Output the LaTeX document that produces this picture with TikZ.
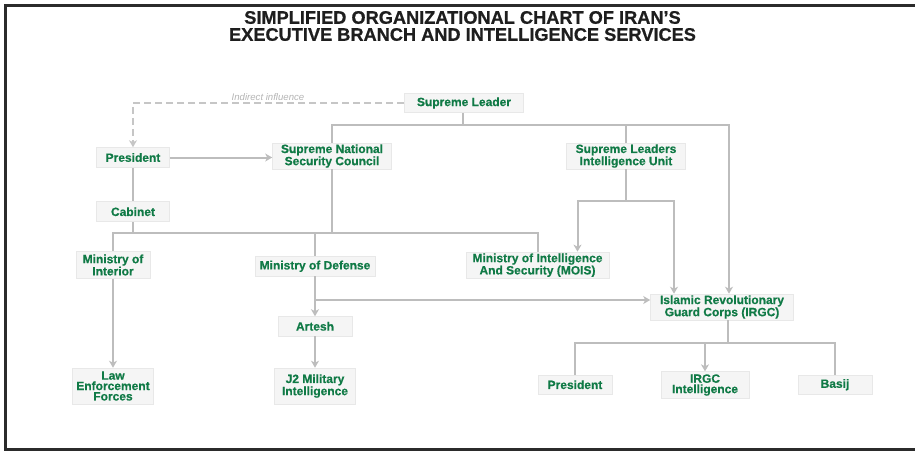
\documentclass[tikz,border=0pt]{standalone}
\usepackage{fontspec}
\setmainfont{Liberation Sans}
\newfontfamily\titlefont[BoldFeatures={FakeBold=0.7}]{Liberation Sans}
\newfontfamily\unitfont[BoldFeatures={FakeBold=0.5}]{Liberation Sans}
\usetikzlibrary{arrows.meta}

\definecolor{orggreen}{RGB}{16,122,70}
\definecolor{boxfill}{RGB}{245,245,245}
\definecolor{boxline}{RGB}{232,232,232}
\definecolor{linkgray}{RGB}{189,189,189}
\definecolor{dashgray}{RGB}{198,198,198}
\definecolor{notegray}{RGB}{180,180,180}
\definecolor{framegray}{RGB}{43,43,43}
\definecolor{titlegray}{RGB}{30,30,30}

\tikzset{
  unit/.style={draw=boxline, line width=0.6pt, fill=boxfill, text=orggreen,
    font=\unitfont\fontsize{12}{10.4}\selectfont\bfseries, align=center,
    inner sep=0pt, anchor=center},
  link/.style={draw=linkgray, line width=2pt},
  linkarrow/.style={link, -{Stealth[length=7pt,width=8pt,inset=2pt]}},
  influence/.style={draw=dashgray, line width=1.8pt, dash pattern=on 7pt off 4pt,
    -{Stealth[length=7pt,width=8pt,inset=2pt]}},
}

\begin{document}
\begin{tikzpicture}[x=1pt,y=-1pt]
  \useasboundingbox (0,0) rectangle (915,453);

  % frame, open on the right
  \draw[framegray, line width=3pt] (915,5) -- (5.5,5) -- (5.5,449.5) -- (915,449.5);

  % heading
  \node[text=titlegray, font=\titlefont\fontsize{18.2}{17}\selectfont\bfseries, align=center]
    (title) at (462.5,26) {SIMPLIFIED ORGANIZATIONAL CHART OF IRAN’S\\EXECUTIVE BRANCH AND INTELLIGENCE SERVICES};

  % units
  \node[unit, minimum width=119pt, minimum height=19pt] (leader) at (464,103) {Supreme Leader};
  \node[unit, minimum width=73pt, minimum height=20pt] (pres) at (133,157.5) {President};
  \node[unit, minimum width=119pt, minimum height=26pt] (snsc) at (332,156) {Supreme National\\Security Council};
  \node[unit, minimum width=119pt, minimum height=26pt] (sliu) at (626,156) {Supreme Leaders\\Intelligence Unit};
  \node[unit, minimum width=73pt, minimum height=20pt] (cabinet) at (133,211.7) {Cabinet};
  \node[unit, minimum width=74pt, minimum height=26.7pt] (interior) at (113,265) {Ministry of\\Interior};
  \node[unit, minimum width=120pt, minimum height=19.3pt] (defense) at (315,266.3) {Ministry of Defense};
  \node[unit, minimum width=143pt, minimum height=26.5pt] (mois) at (537.5,265.2) {Ministry of Intelligence\\And Security (MOIS)};
  \node[unit, minimum width=143pt, minimum height=26pt] (irgc) at (722,307) {Islamic Revolutionary\\Guard Corps (IRGC)};
  \node[unit, minimum width=74pt, minimum height=19.5pt] (artesh) at (315,326.3) {Artesh};
  \node[unit, minimum width=81pt, minimum height=36pt] (police) at (113,386) {Law\\Enforcement\\Forces};
  \node[unit, minimum width=81pt, minimum height=36pt] (jtwo) at (315,386) {J2 Military\\Intelligence};
  \node[unit, minimum width=74pt, minimum height=19.5pt] (irgcpres) at (575,384.7) {President};
  \node[unit, minimum width=88pt, minimum height=26.7pt] (irgcintel) at (705,385) {IRGC\\Intelligence};
  \node[unit, minimum width=74pt, minimum height=19.5pt] (basij) at (835,384.7) {Basij};

  % junctions
  \coordinate (leaderbus) at (463,125);
  \coordinate (govbus) at (332,232.5);
  \coordinate (sliubus) at (626,201);
  \coordinate (defbus) at (315,300);
  \coordinate (irgcbus) at (728,343);

  % indirect influence
  \draw[influence] (leader.west) -| (pres.north);
  \node[text=notegray, font=\fontsize{9.6}{9.6}\selectfont\itshape] (influencelabel) at (268,96.7) {Indirect influence};

  % Supreme Leader branches
  \draw[link] (leader.south -| leaderbus) -- (leaderbus);
  \draw[link] (leaderbus) -| (snsc.north);
  \draw[link] (leaderbus) -| (sliu.north);
  \draw[linkarrow] (leaderbus) -| ([xshift=7pt]irgc.north);

  % President and government
  \draw[linkarrow] (pres.east) -- (snsc.west |- pres.east);
  \draw[link] (pres.south) -- (cabinet.north);
  \draw[link] (cabinet.south) |- (govbus);
  \draw[link] (snsc.south) -- (govbus);
  \draw[link] (govbus) -| (interior.north);
  \draw[link] (govbus) -| (defense.north);
  \draw[link] (govbus) -| (mois.north);

  % Supreme Leaders Intelligence Unit
  \draw[link] (sliu.south) -- (sliubus);
  \draw[linkarrow] (sliubus) -| ([xshift=40pt]mois.north);
  \draw[linkarrow] (sliubus) -| ([xshift=-48pt]irgc.north);

  % ministries downwards
  \draw[linkarrow] (interior.south) -- (police.north);
  \draw[link] (defense.south) -- (defbus);
  \draw[linkarrow] (defbus) -- (artesh.north);
  \draw[linkarrow] (defbus) -- (irgc.west |- defbus);
  \draw[linkarrow] (artesh.south) -- (jtwo.north);

  % IRGC branches
  \draw[link] ([xshift=6pt]irgc.south) -- (irgcbus);
  \draw[link] (irgcbus) -| (irgcpres.north);
  \draw[linkarrow] (irgcbus) -| (irgcintel.north);
  \draw[link] (irgcbus) -| (basij.north);
\end{tikzpicture}
\end{document}
